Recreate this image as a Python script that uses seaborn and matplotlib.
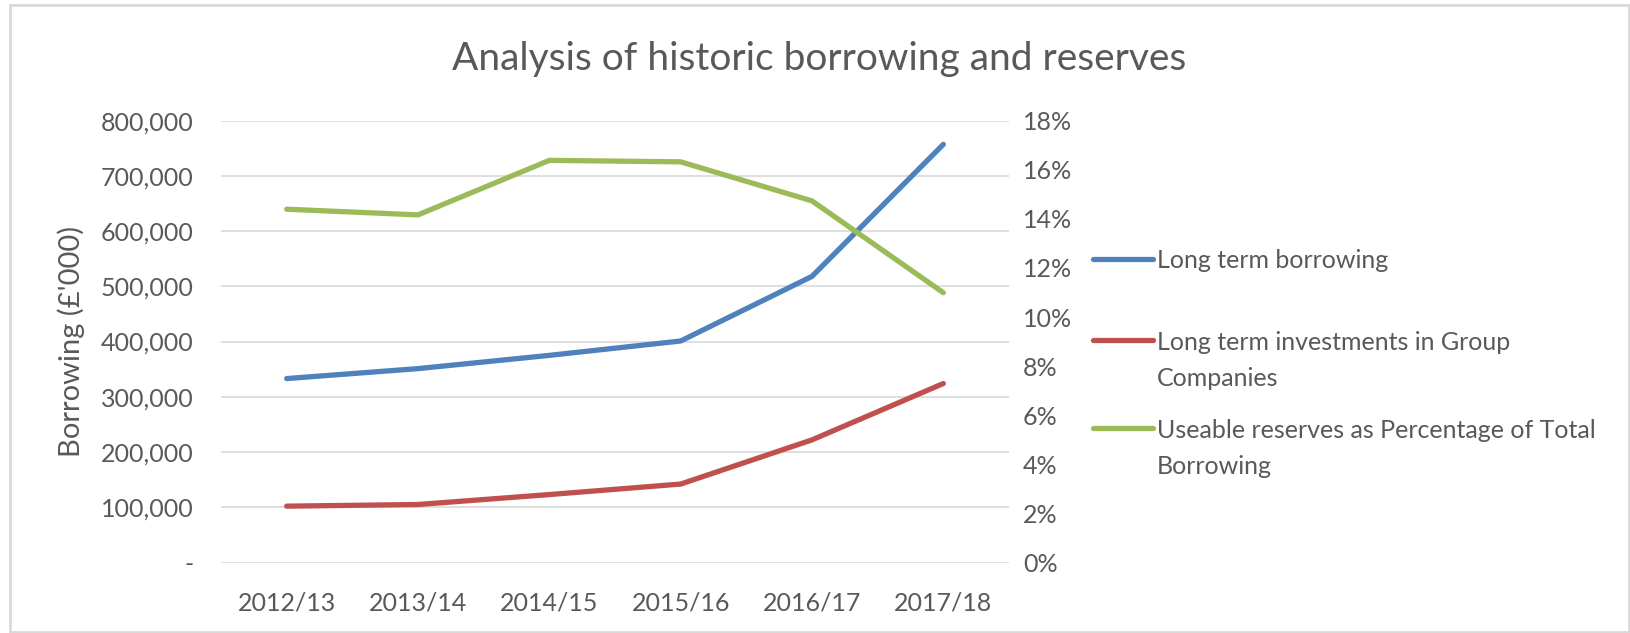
import matplotlib
matplotlib.use("Agg")
import matplotlib.pyplot as plt
import seaborn as sns
import pandas as pd
from matplotlib.ticker import FuncFormatter
from matplotlib.lines import Line2D

years = ["2012/13", "2013/14", "2014/15", "2015/16", "2016/17", "2017/18"]
long_term_borrowing = [333000, 351000, 375000, 401000, 518000, 757000]
group_investments = [102000, 105000, 123000, 142000, 222000, 324000]
reserves_pct = [14.39, 14.16, 16.38, 16.32, 14.73, 10.99]

left_ticks = [0, 100000, 200000, 300000, 400000, 500000, 600000, 700000, 800000]
right_ticks = [0, 2, 4, 6, 8, 10, 12, 14, 16, 18]

labels = [["Long term borrowing"],
          ["Long term investments in Group", "Companies"],
          ["Useable reserves as Percentage of Total", "Borrowing"]]
colors = ["#4F81BD", "#C0504D", "#9BBB59"]

sns.set_theme(style="white")
plt.rcParams["font.family"] = ["Lato", "DejaVu Sans"]
TXT = "#595959"
FS = 18

W, H = 1631, 633
fig = plt.figure(figsize=(W / 100, H / 100), dpi=100)
ax = fig.add_axes([221 / W, 1 - 562.5 / H, (1009 - 221) / W, (562.5 - 120.6) / H])
ax2 = ax.twinx()

df = pd.DataFrame({"year": years, "ltb": long_term_borrowing,
                   "inv": group_investments, "pct": reserves_pct})

lw = 3.8
sns.lineplot(data=df, x="year", y="ltb", ax=ax, color=colors[0], lw=lw,
             solid_capstyle="round", sort=False)
sns.lineplot(data=df, x="year", y="inv", ax=ax, color=colors[1], lw=lw,
             solid_capstyle="round", sort=False)
sns.lineplot(data=df, x="year", y="pct", ax=ax2, color=colors[2], lw=lw,
             solid_capstyle="round", sort=False)

ax.set_xlim(-0.5, len(years) - 0.5)
ax.set_ylim(0, 800000)
ax2.set_ylim(0, 18)
ax.set_yticks(left_ticks)
ax2.set_yticks(right_ticks)
ax.yaxis.set_major_formatter(FuncFormatter(lambda v, p: "-" if v == 0 else f"{v:,.0f}"))
ax2.yaxis.set_major_formatter(FuncFormatter(lambda v, p: f"{v:.0f}%"))

ax.grid(axis="y", color="#D9D9D9", lw=1.2)
ax.grid(axis="x", visible=False)
ax2.grid(False)
for a in (ax, ax2):
    for s in a.spines.values():
        s.set_visible(False)
ax.set_axisbelow(True)

ax.tick_params(axis="y", length=0, pad=20, labelsize=FS, labelcolor=TXT)
ax.tick_params(axis="x", length=0, pad=21, labelsize=FS, labelcolor=TXT)
ax2.tick_params(axis="y", length=0, pad=10, labelsize=FS, labelcolor=TXT)

ax.set_xlabel("")
ax2.set_ylabel("")
ax.set_ylabel("Borrowing (£'000)", fontsize=21, color=TXT)
ax.yaxis.set_label_coords((71 - 221) / (1009 - 221), 0.50)
ax.yaxis.label.set_verticalalignment("center")

fig.text(0.5 * (433 + 1143) * 1.04 / W, 1 - 59 / H,
         "Analysis of historic borrowing and reserves",
         ha="center", va="center", fontsize=28, color=TXT)

# legend
leg_y = [259, 340, 428]
line_step = 36.5
for lab, col, yy in zip(labels, colors, leg_y):
    fig.add_artist(Line2D([1093 / W, 1153 / W], [1 - yy / H, 1 - yy / H],
                          color=col, lw=lw, solid_capstyle="round",
                          transform=fig.transFigure))
    for i, part in enumerate(lab):
        fig.text(1157 / W, 1 - (yy + i * line_step) / H, part, ha="left",
                 va="center_baseline", fontsize=FS, color=TXT)

# chart border
fig.add_artist(plt.Rectangle((10 / W, 0.002), 1 - 10 / W - 0.0015, 1 - 5 / H - 0.002,
                             fill=False, edgecolor="#D9D9D9", lw=2,
                             transform=fig.transFigure))

fig.savefig("out.png", dpi=100, facecolor="white")
